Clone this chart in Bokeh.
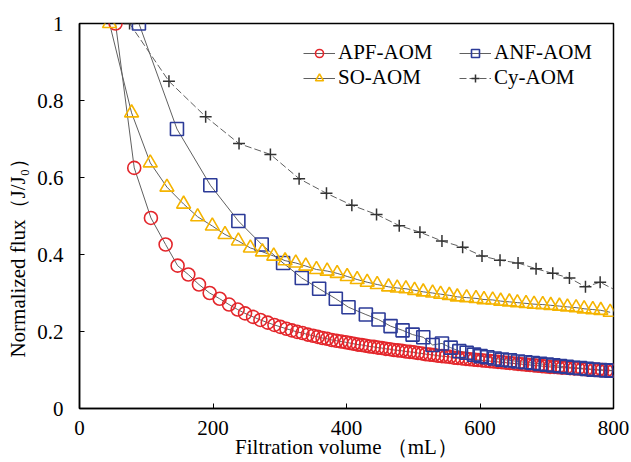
from bokeh.plotting import figure
from bokeh.models import Legend, LegendItem, Range1d, FixedTicker
from bokeh.embed import file_html
from bokeh.resources import INLINE

# ---- data ----
apf_x = [54, 82, 107, 129, 147, 163, 179, 195, 210, 224, 237, 248, 260, 271, 282, 292, 301, 310, 318,
         326, 334, 342, 350, 357, 364, 371, 378, 385, 392, 399, 405, 411, 417, 423, 429, 435, 441, 447,
         453, 459, 465, 471, 477, 483, 489, 495, 501, 507, 513, 519, 525, 531, 537, 543, 549, 555, 561,
         567, 573, 579, 585, 591, 597, 603, 609, 615, 621, 627, 633, 639, 645, 651, 657, 663, 669, 675,
         681, 687, 693, 699, 705, 711, 717, 723, 729, 735, 741, 747, 753, 759, 765, 771, 777, 783, 789,
         795, 800]
apf_y = [1.0, 0.625, 0.495, 0.426, 0.371, 0.348, 0.322, 0.300, 0.285, 0.270, 0.257, 0.247, 0.238, 0.230,
         0.223, 0.217, 0.212, 0.207, 0.203, 0.199, 0.196, 0.192, 0.189, 0.186, 0.183, 0.181, 0.178, 0.176,
         0.174, 0.172, 0.170, 0.168, 0.166, 0.165, 0.163, 0.161, 0.160, 0.158, 0.157, 0.155, 0.154, 0.152,
         0.151, 0.150, 0.148, 0.147, 0.146, 0.144, 0.143, 0.141, 0.140, 0.139, 0.137, 0.136, 0.135, 0.134,
         0.132, 0.131, 0.130, 0.129, 0.128, 0.127, 0.126, 0.125, 0.124, 0.123, 0.122, 0.121, 0.120, 0.119,
         0.118, 0.117, 0.116, 0.115, 0.114, 0.113, 0.112, 0.111, 0.110, 0.109, 0.108, 0.108, 0.107, 0.106,
         0.106, 0.105, 0.104, 0.104, 0.103, 0.102, 0.102, 0.101, 0.100, 0.100, 0.099, 0.099, 0.098]

anf_x = [89, 146, 196, 238, 273, 305, 333, 359, 384, 403, 429, 448, 466, 484, 499, 515, 529, 543, 556,
         569, 580, 591, 601, 611, 622, 633, 645, 657, 668, 679, 690, 700, 710, 720, 730, 740, 750, 760,
         770, 780, 789, 797]
anf_y = [1.0, 0.726, 0.580, 0.487, 0.426, 0.378, 0.339, 0.311, 0.285, 0.263, 0.244, 0.231, 0.214, 0.203,
         0.192, 0.185, 0.165, 0.169, 0.158, 0.149, 0.145, 0.140, 0.136, 0.133, 0.130, 0.127, 0.125, 0.122,
         0.120, 0.118, 0.116, 0.114, 0.112, 0.110, 0.108, 0.106, 0.105, 0.103, 0.101, 0.100, 0.099, 0.098]

so_x = [45, 78, 106, 131, 156, 177, 199, 218, 238, 256, 274, 291, 308, 324, 339, 355, 371, 386, 401, 416,
        431, 446, 463, 476, 489, 502, 515, 529, 541, 554, 566, 580, 594, 606, 619, 631, 644, 656, 669,
        681, 694, 706, 719, 731, 744, 756, 769, 781, 795]
so_y = [1.0, 0.768, 0.638, 0.575, 0.531, 0.498, 0.474, 0.452, 0.435, 0.417, 0.407, 0.396, 0.384, 0.378,
        0.370, 0.361, 0.357, 0.351, 0.343, 0.335, 0.328, 0.322, 0.316, 0.313, 0.311, 0.307, 0.303, 0.300,
        0.297, 0.294, 0.290, 0.288, 0.286, 0.283, 0.282, 0.279, 0.277, 0.275, 0.273, 0.271, 0.270, 0.268,
        0.266, 0.264, 0.262, 0.259, 0.257, 0.255, 0.250]

cy_x = [75, 134, 189, 239, 286, 329, 370, 408, 445, 479, 510, 543, 574, 603, 630, 657, 684, 709, 734,
        758, 780, 800]
cy_y = [1.0, 0.850, 0.758, 0.688, 0.660, 0.597, 0.559, 0.528, 0.504, 0.475, 0.458, 0.435, 0.419, 0.396,
        0.385, 0.378, 0.363, 0.351, 0.339, 0.316, 0.328, 0.310]

x_ticks = [0, 200, 400, 600, 800]
y_ticks = [0, 0.2, 0.4, 0.6, 0.8, 1.0]
labels = ["APF-AOM", "ANF-AOM", "SO-AOM", "Cy-AOM"]

FONT = "Liberation Serif"
FS = "21px"
LINE_C = "#606060"
RED = "#e3262b"
BLUE = "#2c3b98"
YEL = "#f5b400"
DARK = "#333333"

p = figure(width=631, height=462, output_backend="svg", toolbar_location=None,
           x_range=Range1d(0, 800), y_range=Range1d(0, 1),
           min_border_left=79, min_border_right=18, min_border_top=23, min_border_bottom=54)
p.xgrid.visible = False
p.ygrid.visible = False
p.outline_line_color = "black"
p.outline_line_width = 1.5
p.background_fill_color = "white"
p.border_fill_color = "white"

for ax in (p.xaxis[0], p.yaxis[0]):
    ax.axis_line_color = "black"
    ax.axis_line_width = 1.5
    ax.major_tick_in = 5
    ax.major_tick_out = 0
    ax.minor_tick_line_color = None
    ax.major_tick_line_color = "black"
    ax.major_label_text_font = FONT
    ax.major_label_text_font_size = FS
    ax.major_label_text_color = "black"
    ax.axis_label_text_font = FONT
    ax.axis_label_text_font_size = FS
    ax.axis_label_text_font_style = "normal"
    ax.axis_label_text_color = "black"

p.xaxis.ticker = FixedTicker(ticks=x_ticks)
p.yaxis.ticker = FixedTicker(ticks=y_ticks)
p.yaxis.major_label_overrides = {0: "0", 1: "1", 0.2: "0.2", 0.4: "0.4", 0.6: "0.6", 0.8: "0.8"}
p.xaxis.axis_label = "Filtration volume （mL）"
# trailing em spaces shift the visible label downward, as in the reference
p.yaxis.axis_label = "Normalized flux（J/J₀）\u2003\u2003\u2003\u2002"
p.xaxis.major_label_standoff = 12
p.xaxis.axis_label_standoff = -3
p.yaxis.major_label_standoff = 16
p.yaxis.axis_label_standoff = 4

# lines
l_apf = p.line(apf_x, apf_y, line_color=LINE_C, line_width=1)
l_anf = p.line(anf_x, anf_y, line_color=LINE_C, line_width=1)
l_so = p.line(so_x, so_y, line_color=LINE_C, line_width=1)
l_cy = p.line(cy_x, cy_y, line_color=LINE_C, line_width=1, line_dash="7 3")

# markers
m_apf = p.scatter(apf_x, apf_y, marker="circle", size=13, fill_color=None, line_color=RED, line_width=1.6)
m_anf = p.scatter(anf_x, anf_y, marker="square", size=13, fill_color=None, line_color=BLUE, line_width=1.6)
m_so = p.scatter(so_x, so_y, marker="triangle", size=14, fill_color=None, line_color=YEL, line_width=1.6)
m_cy = p.scatter(cy_x[:-1], cy_y[:-1], marker="cross", size=12, fill_color=None, line_color=DARK, line_width=1.5)


def make_legend(items, vx):
    lg = Legend(items=items, location=(vx, 318), orientation="vertical",
                padding=0, spacing=-1, margin=0, label_height=20, glyph_height=20, glyph_width=32,
                label_standoff=3, label_text_font=FONT, label_text_font_size=FS,
                label_text_color="black", border_line_color=None, background_fill_alpha=0)
    return lg


lg1 = make_legend([LegendItem(label=labels[0], renderers=[l_apf, m_apf]),
                   LegendItem(label=labels[2], renderers=[l_so, m_so])], 224)
lg2 = make_legend([LegendItem(label=labels[1], renderers=[l_anf, m_anf]),
                   LegendItem(label=labels[3], renderers=[l_cy, m_cy])], 380)
p.add_layout(lg1)
p.add_layout(lg2)

open("out.html", "w").write(file_html(p, INLINE))
